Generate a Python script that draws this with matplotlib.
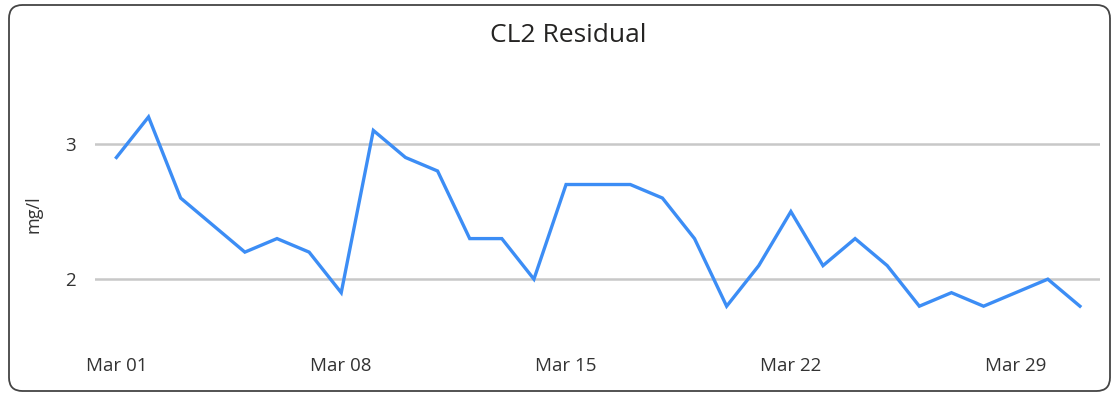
import matplotlib.pyplot as plt
import matplotlib.dates as mdates
from matplotlib.patches import FancyBboxPatch
import pandas as pd

# daily CL2 residual readings, March
dates = pd.date_range('2021-03-01', '2021-03-31', freq='D')
cl2 = [2.9, 3.2, 2.6, 2.4, 2.2, 2.3, 2.2, 1.9, 3.1, 2.9,
       2.8, 2.3, 2.3, 2.0, 2.7, 2.7, 2.7, 2.6, 2.3, 1.8,
       2.1, 2.5, 2.1, 2.3, 2.1, 1.8, 1.9, 1.8, 1.9, 2.0, 1.8]
tick_dates = pd.to_datetime(['2021-03-01', '2021-03-08', '2021-03-15',
                             '2021-03-22', '2021-03-29'])
y_ticks = [2, 3]

W, H = 1117, 400
plt.rcParams['font.family'] = ['Open Sans', 'DejaVu Sans']
fig = plt.figure(figsize=(W / 100, H / 100), dpi=100)

# rounded card border, kept behind the axes
card = FancyBboxPatch((9 / W, 9 / H), 1101 / W, 386 / H,
                      boxstyle='round,pad=0,rounding_size=0.012',
                      transform=fig.transFigure, facecolor='white',
                      edgecolor='#444444', linewidth=1.3,
                      mutation_aspect=W / H, zorder=-10)
fig.patches.append(card)

ax = fig.add_axes([95 / W, 60 / H, 1005 / W, 265 / H])
ax.set_facecolor('none')
ax.plot(dates, cl2, color='#3c8df5', linewidth=2.4, solid_joinstyle='miter')

ax.set_ylim(1.55, 3.51)
ax.set_yticks(y_ticks)
ax.set_yticklabels([str(v) for v in y_ticks])
ax.set_xlim(dates[0] - pd.Timedelta(hours=16), dates[-1] + pd.Timedelta(hours=15))
ax.set_xticks(tick_dates)
ax.xaxis.set_major_formatter(mdates.DateFormatter('%b %d'))

ax.grid(axis='y', color='#c8c8c8', linewidth=1.8)
ax.set_axisbelow(True)
for s in ax.spines.values():
    s.set_visible(False)
ax.tick_params(length=0, labelsize=13.5, colors='#333333')
ax.tick_params(axis='x', pad=12)
ax.tick_params(axis='y', pad=14)

fig.text(33 / W, 1 - 214 / H, 'mg/l', rotation=90, ha='center', va='center',
         fontsize=13, color='#333333')
fig.text(568 / W, 1 - 35 / H, 'CL2 Residual', ha='center', va='center',
         fontsize=19, color='#252423', fontweight='medium')

fig.savefig('out.png', dpi=100)
